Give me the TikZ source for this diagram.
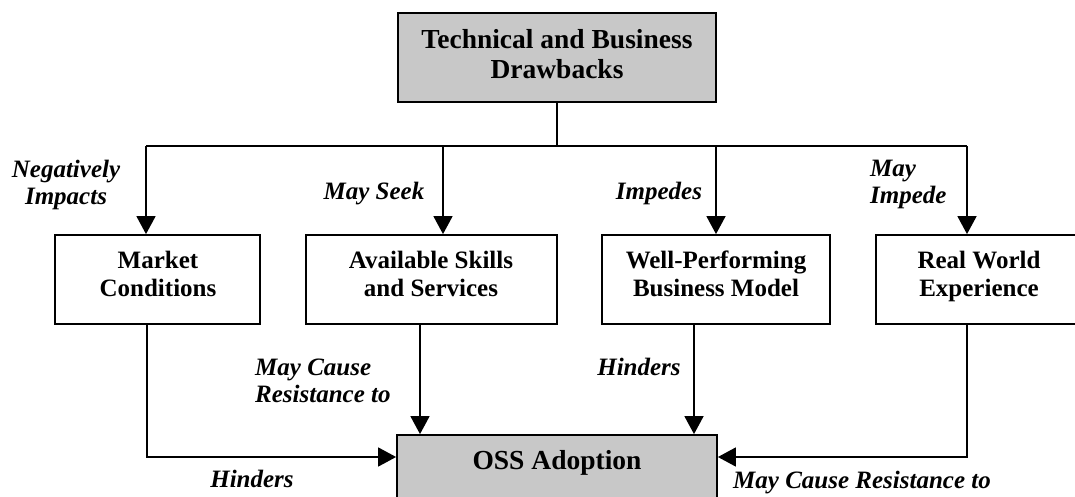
\documentclass[tikz,border=0pt]{standalone}
\usepackage{fontspec}
\setmainfont{Liberation Serif}
\usetikzlibrary{arrows.meta}
\definecolor{boxgray}{RGB}{200,200,200}
\begin{document}
\begin{tikzpicture}[x=1pt,y=-1pt,
  box/.style={draw=black, line width=1.8pt, rectangle, inner sep=0pt},
  graybox/.style={box, fill=boxgray},
  boxtext/.style={font=\bfseries\fontsize{25}{28}\selectfont, align=center, inner sep=0pt, anchor=north},
  graytext/.style={font=\bfseries\fontsize{27.5}{30}\selectfont, align=center, inner sep=0pt},
  lbl/.style={font=\bfseries\itshape\fontsize{25}{27}\selectfont, inner sep=0pt},
  conn/.style={line width=1.6pt},
  arr/.style={conn, -{Triangle[length=18pt,width=19pt]}}
]
\useasboundingbox (0,0) rectangle (1075,497);
\clip (0,0) rectangle (1075,497);

% boxes
\node[graybox, minimum width=318pt, minimum height=89pt] (top) at (557,57.5) {};
\node[box, minimum width=205pt, minimum height=89pt] (market) at (157.5,279.5) {};
\node[box, minimum width=251pt, minimum height=89pt] (avail) at (431.5,279.5) {};
\node[box, minimum width=228pt, minimum height=89pt] (well) at (716,279.5) {};
\node[box, minimum width=206pt, minimum height=89pt] (real) at (979,279.5) {};
\node[graybox, minimum width=320pt, minimum height=80pt] (oss) at (557,475) {};

% box texts
\node[graytext, anchor=north] (topT) at (557,29) {Technical and Business\\Drawbacks};
\node[boxtext] (marketT) at (158,251) {Market\\Conditions};
\node[boxtext] (availT) at (431,251) {Available Skills\\and Services};
\node[boxtext] (wellT) at (716,251) {Well-Performing\\Business Model};
\node[boxtext] (realT) at (979,251) {Real World\\Experience};
\node[graytext, anchor=base] (ossT) at (557,469) {OSS Adoption};

% top connectors
\coordinate (j) at (557,146);
\coordinate (h1) at (146,146);
\coordinate (h2) at (443,146);
\coordinate (h3) at (716,146);
\coordinate (h4) at (967,146);
\draw[conn] (top.south) -- (j);
\draw[conn] (h1) -- (h4);
\draw[arr] (h1) -- (h1 |- market.north);
\draw[arr] (h2) -- (h2 |- avail.north);
\draw[arr] (h3) -- (h3 |- well.north);
\draw[arr] (h4) -- (h4 |- real.north);

% bottom connectors
\coordinate (m1) at (147,457);
\coordinate (a1) at (420,330);
\coordinate (w1) at (694,330);
\coordinate (r1) at (967,457);
\draw[arr] (m1 |- market.south) -- (m1) -- (m1 -| oss.west);
\draw[arr] (a1 |- avail.south) -- (a1 |- oss.north);
\draw[arr] (w1 |- well.south) -- (w1 |- oss.north);
\draw[arr] (r1 |- real.south) -- (r1) -- (r1 -| oss.east);

% labels
\node[lbl, align=center, anchor=north] (l1) at (66,160) {Negatively\\Impacts};
\node[lbl, anchor=base] (l2) at (374,199) {May Seek};
\node[lbl, anchor=base] (l3) at (659,199) {Impedes};
\node[lbl, align=left, anchor=north west] (l4) at (870,160) {May\\Impede};
\node[lbl, align=left, anchor=north west] (l5) at (255,359) {May Cause\\Resistance to};
\node[lbl, anchor=base] (l6) at (252,487) {Hinders};
\node[lbl, anchor=base] (l7) at (639,375) {Hinders};
\node[lbl, anchor=base west] (l8) at (733,488) {May Cause Resistance to};
\end{tikzpicture}
\end{document}
